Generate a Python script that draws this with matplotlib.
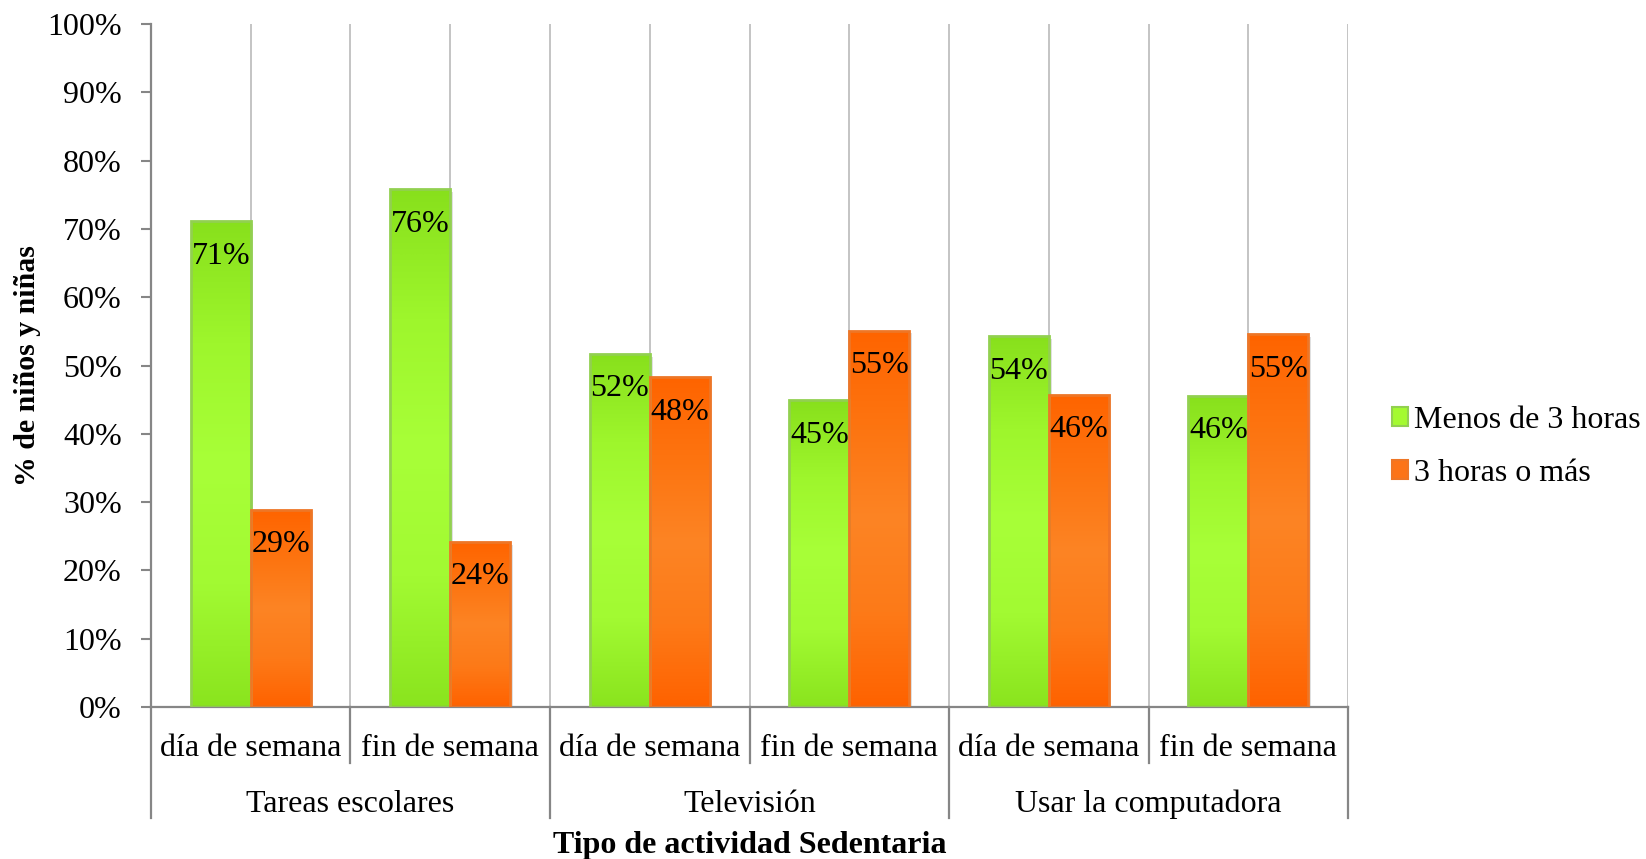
import matplotlib
matplotlib.use('Agg')
import matplotlib.pyplot as plt
import numpy as np
from matplotlib.patches import Patch
from matplotlib.colors import LinearSegmentedColormap
from matplotlib import patheffects as pe
import matplotlib.transforms as mtransforms

# ---- data ----
categories = ['día de semana', 'fin de semana'] * 3
groups = ['Tareas escolares', 'Televisión', 'Usar la computadora']
menos_3h = [71.1, 75.8, 51.7, 44.9, 54.3, 45.6]
mas_3h = [28.9, 24.2, 48.3, 55.1, 45.7, 54.6]
series_names = ['Menos de 3 horas', '3 horas o más']
yticks = list(range(0, 101, 10))

plt.rcParams['font.family'] = ['Liberation Serif', 'DejaVu Serif']
FS = 23

fig = plt.figure(figsize=(16.46, 8.59), dpi=100)
ax = fig.add_axes([0.0917, 0.1769, 0.7273, 0.7951])

x = np.arange(len(categories))
w = 0.30

# colour ramps run from the top of a bar to its base
green_cmap = LinearSegmentedColormap.from_list(
    'g', ['#88E01C', '#9EF62C', '#A8FF38', '#A2FA32', '#8AE41E'])
orange_cmap = LinearSegmentedColormap.from_list(
    'o', ['#FF6400', '#FD7410', '#FC8424', '#FD7A18', '#FF6200'])

def gradient_bars(xpos, vals, cmap, edge):
    bars = ax.bar(xpos, vals, width=w, facecolor='none', edgecolor=edge,
                  linewidth=2.0, zorder=3)
    grad = np.linspace(0, 1, 256).reshape(-1, 1)
    for b in bars:
        x0, y0 = b.get_x(), b.get_y()
        x1, y1 = x0 + b.get_width(), y0 + b.get_height()
        # soft shadow behind each bar
        sh = plt.Rectangle((x0, y0), b.get_width(), b.get_height(),
                           facecolor='white', edgecolor='none', zorder=1.8,
                           path_effects=[pe.SimplePatchShadow(offset=(2, -2),
                                                              shadow_rgbFace='#000000',
                                                              alpha=0.12)])
        ax.add_patch(sh)
        im = ax.imshow(grad, cmap=cmap, extent=(x0, x1, y0, y1), origin='upper',
                       aspect='auto', zorder=2, interpolation='bicubic')
        im.set_clip_path(b)
    return bars

gradient_bars(x - w / 2, menos_3h, green_cmap, '#92D050')
gradient_bars(x + w / 2, mas_3h, orange_cmap, '#EE7626')

# value labels inside the top of each bar
for xs, vals in ((x - w / 2, menos_3h), (x + w / 2, mas_3h)):
    for xi, v in zip(xs, vals):
        ax.annotate(f'{int(v + 0.5)}%', (xi, v), xytext=(0, -35),
                    textcoords='offset pixels', ha='center', va='center',
                    fontsize=FS, color='black', zorder=5)

# vertical gridlines at category centres and boundaries
for gx in np.arange(0, len(categories) + 0.01, 0.5):
    ax.plot([gx, gx], [0, 100], color='#BFBFBF', lw=1.3, zorder=0.5)

ax.set_xlim(-0.5, len(categories) - 0.5)
ax.set_ylim(0, 100)
ax.set_yticks(yticks)
ax.set_yticklabels([f'{t}%' for t in yticks], fontsize=FS)
ax.tick_params(axis='y', length=7, width=1.5, color='#868686', pad=14)
ax.set_xticks([])
for s in ('top', 'right'):
    ax.spines[s].set_visible(False)
for s in ('left', 'bottom'):
    ax.spines[s].set_color('#868686')
    ax.spines[s].set_linewidth(1.6)

trans = mtransforms.blended_transform_factory(ax.transData, ax.transAxes)

# category labels and group labels
for xi, lab in zip(x, categories):
    ax.text(xi, -0.061, lab, transform=trans, ha='center', va='center', fontsize=FS)
for gi, g in enumerate(groups):
    ax.text(2 * gi + 0.5, -0.143, g, transform=trans, ha='center', va='center', fontsize=FS)

# separators below the axis
for bx in np.arange(-0.5, len(categories), 1.0):
    outer = (bx + 0.5) % 2 == 0
    ax.plot([bx, bx], [0, -0.1625 if outer else -0.082], transform=trans,
            color='#868686', lw=1.6, clip_on=False, zorder=4)

ax.text(0.5, -0.202, 'Tipo de actividad Sedentaria', transform=ax.transAxes,
        ha='center', va='center', fontsize=FS, fontweight='bold')
fig.text(28 / 1646, 1 - 366 / 859, '% de niños y niñas', rotation=90,
         ha='center', va='center', fontsize=21.5, fontweight='bold')

handles = [Patch(facecolor='#A4FA30', edgecolor='#92D050', linewidth=1.5),
           Patch(facecolor='#FC7418', edgecolor='#EE7626', linewidth=1.5)]
fig.legend(handles, series_names, loc='center left',
           bbox_to_anchor=(1392 / 1646, 1 - 447 / 859), frameon=False,
           fontsize=FS, handlelength=0.5, handleheight=0.55,
           handletextpad=0.2, labelspacing=0.75, borderpad=0, borderaxespad=0)

fig.savefig('out.png', dpi=100, facecolor='white')
